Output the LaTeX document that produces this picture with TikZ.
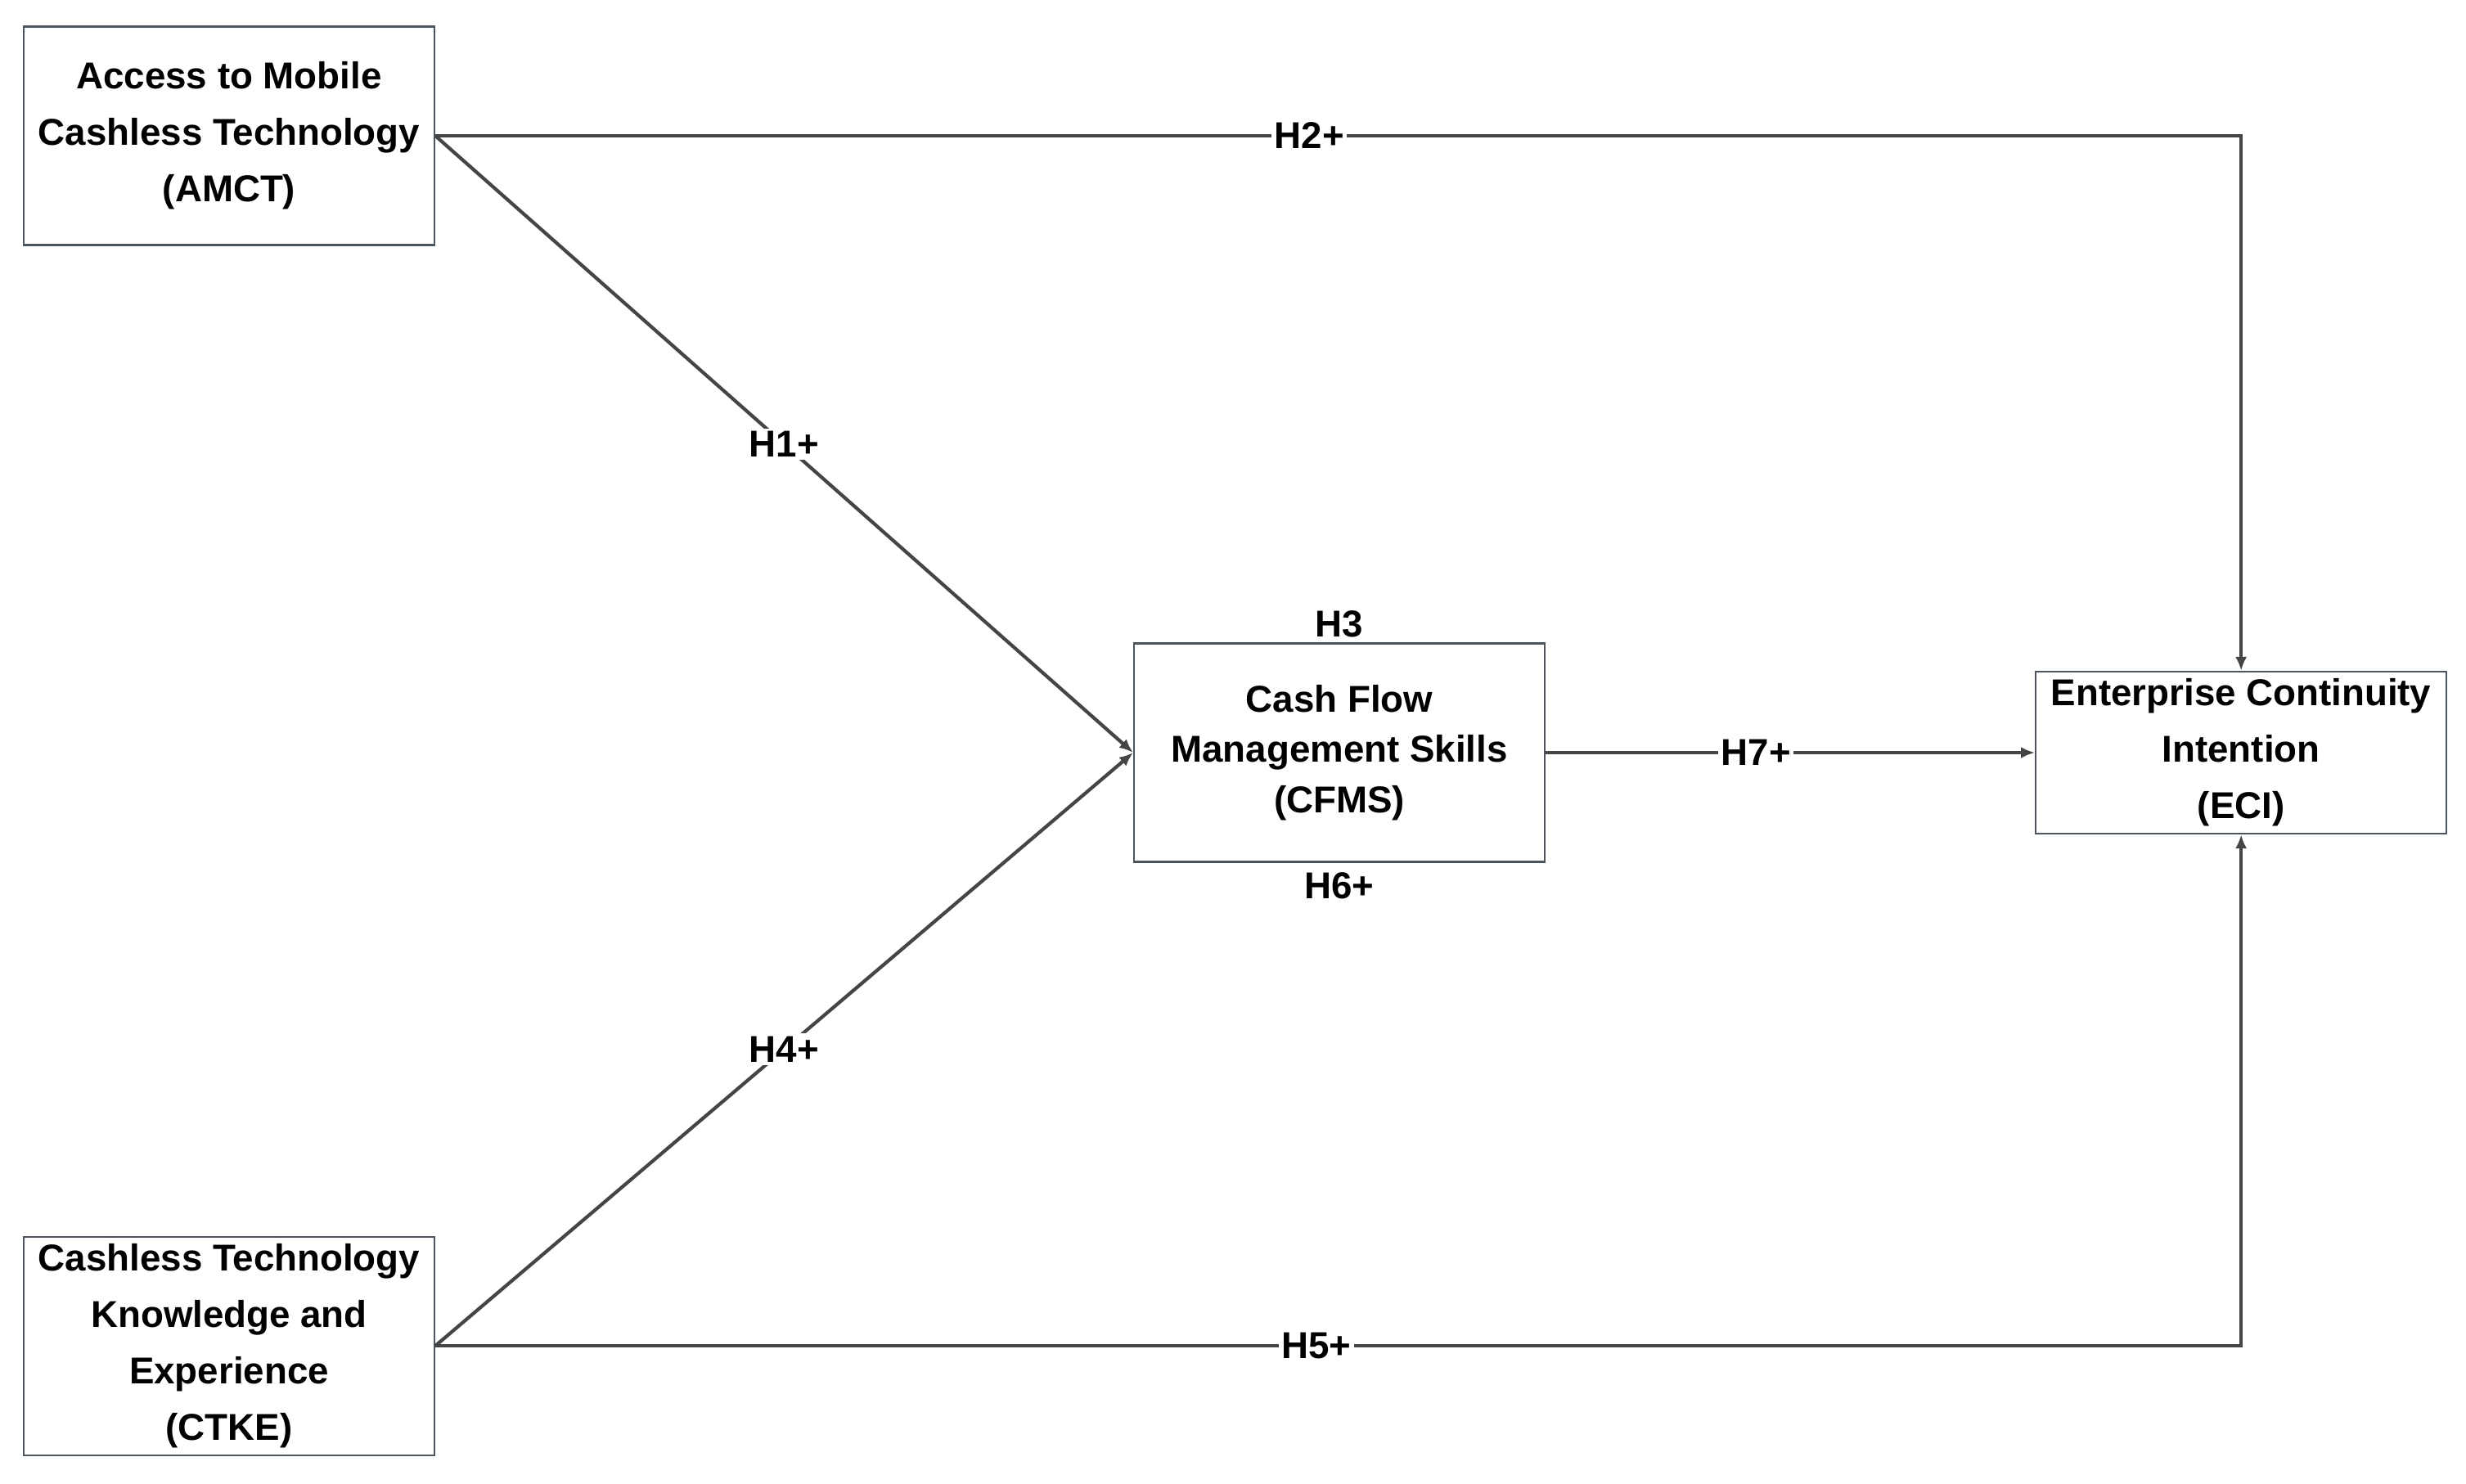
\documentclass[tikz,border=0pt]{standalone}
\usepackage{fontspec}
\setmainfont{Liberation Sans}
\usepackage{xcolor}
\usepackage{tikz}
\usetikzlibrary{arrows.meta,positioning}

\definecolor{edgegray}{HTML}{4B5560}
\definecolor{linegray}{HTML}{454545}

\begin{document}
\begin{tikzpicture}[
    block/.style={draw=edgegray, line width=0.6pt, align=center, minimum width=5.02cm, minimum height=2.67cm, inner sep=2pt, font=\fontsize{13}{19.6}\selectfont\bfseries},
    lbl/.style={fill=white, inner sep=1pt, font=\fontsize{13}{15}\selectfont\bfseries},
    arrow/.style={-{Latex[length=1.7mm, width=1.4mm]}, line width=1.2pt, draw=linegray}
]
\useasboundingbox (0,0) rectangle (30.14,-18.13);

\node[block] (amct) at (2.80,-1.66) {Access to Mobile\\Cashless Technology\\(AMCT)};
\node[block, below=12.1cm of amct] (ctke) {Cashless Technology\\Knowledge and\\Experience\\ (CTKE)};
\node[block, font=\fontsize{13}{17.5}\selectfont\bfseries] (cfms) at (16.37,-9.20) {Cash Flow\\Management Skills\\(CFMS)};
\node[block, minimum height=1.98cm, right=5.98cm of cfms] (eci) {Enterprise Continuity\\Intention\\ (ECI)};

\node[lbl, above=0.02cm of cfms] (h3) {H3};
\node[lbl, below=0.08cm of cfms] (h6) {H6+};

\draw[arrow] (amct.east) -- node[lbl, pos=0.5] {H1+} (cfms.west);
\draw[arrow] (ctke.east) -- node[lbl, pos=0.5] {H4+} (cfms.west);
\draw[arrow] (amct.east) -| node[lbl, pos=0.242] {H2+} (eci.north);
\draw[arrow] (ctke.east) -| node[lbl, pos=0.244] {H5+} (eci.south);
\draw[arrow] (cfms.east) -- node[lbl, pos=0.43] {H7+} (eci.west);
\end{tikzpicture}
\end{document}
